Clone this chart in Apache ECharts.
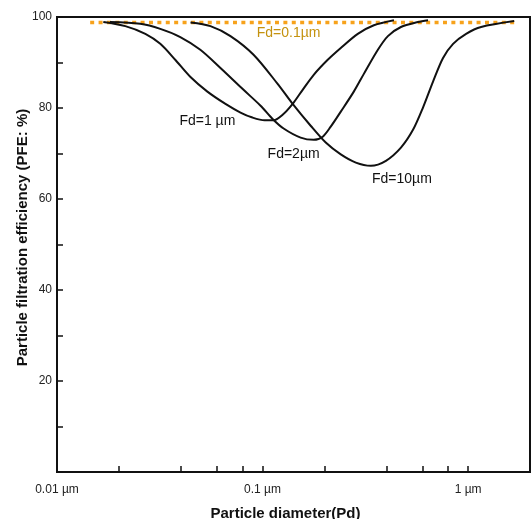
<!DOCTYPE html>
<html lang="en">
<head>
    <meta charset="UTF-8">
    <title>Particle filtration efficiency</title>
    <style>
        html, body { margin: 0; padding: 0; background: #fff; }
    </style>
</head>
<body>
    <div id="main" style="width:532px;height:519px;"></div>

    <script src="https://cdn.jsdelivr.net/npm/echarts@6/dist/echarts.min.js"></script>
    <script>
// particle diameter (um) / efficiency (%) pairs
var fd1 = [
    [0.0168, 98.9], [0.0215, 98.0], [0.0269, 96.3], [0.0318, 94.1], [0.0376, 90.6],
    [0.0446, 86.8], [0.0539, 83.6], [0.066, 80.9], [0.0781, 79.0], [0.0893, 77.9],
    [0.1023, 77.3], [0.1132, 77.3], [0.1252, 78.5], [0.1401, 80.9], [0.1567, 84.0],
    [0.1774, 87.3], [0.2075, 90.6], [0.2402, 93.2], [0.2906, 96.3], [0.3479, 98.2],
    [0.4356, 99.3]
];
var fd2 = [
    [0.0181, 98.9], [0.0254, 98.5], [0.0318, 97.4], [0.0398, 95.6], [0.0498, 92.8],
    [0.0624, 88.8], [0.0808, 84.0], [0.0978, 80.5], [0.1119, 77.6], [0.1266, 75.5],
    [0.1532, 73.5], [0.1774, 73.0], [0.1962, 73.7], [0.2146, 75.9], [0.2402, 79.2],
    [0.2779, 83.6], [0.311, 87.5], [0.3639, 92.8], [0.4072, 95.8], [0.4712, 97.8],
    [0.5703, 98.9], [0.6382, 99.3]
];
var fd10 = [
    [0.0446, 98.8], [0.0558, 98.0], [0.0698, 95.8], [0.0904, 91.7], [0.1184, 85.3],
    [0.1401, 80.9], [0.1714, 76.1], [0.2029, 72.4], [0.2402, 69.8], [0.2843, 68.0],
    [0.3364, 67.3], [0.3981, 68.4], [0.4712, 71.3], [0.5393, 75.2], [0.6032, 80.1],
    [0.675, 85.8], [0.7551, 91.0], [0.8451, 94.1], [0.9777, 96.3], [1.157, 97.8],
    [1.676, 99.1]
];
var fd01 = [[0.0145, 98.8], [1.676, 98.8]];

var xTicks = [0.02, 0.04, 0.06, 0.08, 0.1, 0.2, 0.4, 0.6, 0.8, 1];
var xLabels = [0.01, 0.1, 1];
var yLabels = [20, 40, 60, 80, 100];

var curveLabels = [
    { text: 'Fd=1 µm', coord: [0.0539, 77.2], color: '#111' },
    { text: 'Fd=2µm', coord: [0.1416, 69.9], color: '#111' },
    { text: 'Fd=10µm', coord: [0.4765, 64.3], color: '#111' },
    { text: 'Fd=0.1µm', coord: [0.1339, 96.5], color: '#c4920f' }
];

var font = 'Liberation Sans, Arial, sans-serif';

function curve(data) {
    return {
        type: 'line',
        data: data,
        smooth: 0.3,
        symbol: 'none',
        lineStyle: { color: '#111', width: 2 },
        z: 3
    };
}

var option = {
    animation: false,
    grid: {
        left: 57, top: 17, right: 2, bottom: 47,
        outerBoundsMode: 'none',
        show: true, borderColor: '#111', borderWidth: 2
    },
    xAxis: {
        type: 'log',
        min: 0.01,
        max: 2,
        name: 'Particle diameter(Pd)',
        nameLocation: 'middle',
        nameGap: 34,
        nameMoveOverlap: false,
        nameTextStyle: {
            fontFamily: font, fontSize: 15, fontWeight: 'bold', color: '#111',
            padding: [0, 16, 0, 0]
        },
        axisLine: { lineStyle: { color: '#111', width: 2 } },
        axisTick: {
            inside: true, length: 6, customValues: xTicks,
            lineStyle: { color: '#111', width: 1.5 }
        },
        minorTick: { show: false },
        axisLabel: {
            customValues: xLabels,
            margin: 12,
            fontFamily: font, fontSize: 12, color: '#222',
            formatter: function (v) { return v + ' µm'; }
        },
        splitLine: { show: false }
    },
    yAxis: {
        type: 'value',
        min: 0,
        max: 100,
        interval: 10,
        name: 'Particle filtration efficiency (PFE: %)',
        nameLocation: 'middle',
        nameGap: 27,
        nameMoveOverlap: false,
        nameTextStyle: {
            fontFamily: font, fontSize: 15, fontWeight: 'bold', color: '#111',
            padding: [0, 0, 0, 14]
        },
        axisLine: { show: true, lineStyle: { color: '#111', width: 2 } },
        axisTick: { show: true, inside: true, length: 6, lineStyle: { color: '#111', width: 1.5 } },
        axisLabel: {
            margin: 5,
            fontFamily: font, fontSize: 12, color: '#222',
            formatter: function (v) { return yLabels.indexOf(v) >= 0 ? v : ''; }
        },
        splitLine: { show: false }
    },
    series: [
        curve(fd1),
        curve(fd2),
        curve(fd10),
        {
            type: 'line',
            data: fd01,
            symbol: 'none',
            lineStyle: { color: '#f7a21b', width: 3.5, type: [4, 4.4], cap: 'butt' },
            z: 2
        }
    ]
};

var chart = echarts.init(document.getElementById('main'));
chart.setOption(option);

// curve captions, placed at data coordinates
var texts = curveLabels.map(function (l) {
    var p = chart.convertToPixel({ gridIndex: 0 }, l.coord);
    return {
        type: 'text',
        x: p[0],
        y: p[1],
        z: 10,
        style: {
            text: l.text,
            fill: l.color,
            font: '14px ' + font,
            align: 'center',
            verticalAlign: 'middle'
        }
    };
});
chart.setOption({ graphic: texts });
    </script>
</body>
</html>
